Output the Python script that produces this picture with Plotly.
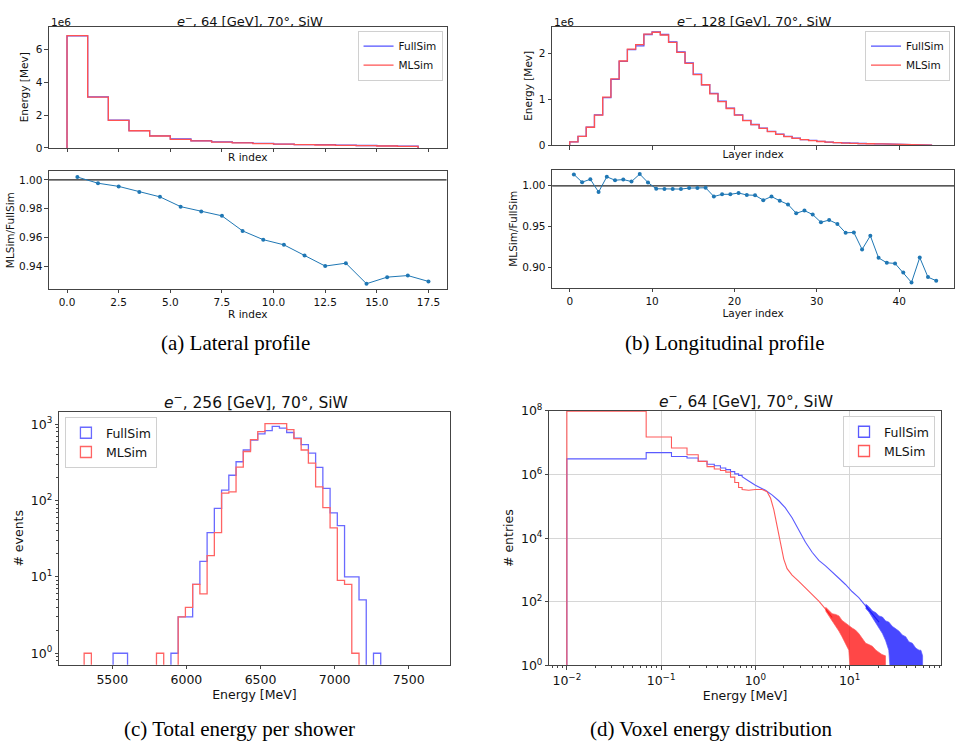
import plotly.graph_objects as go

W, H = 955, 750
FONT = "DejaVu Sans"
SERIF = "Liberation Serif"
TXT = "#111111"
SPINE = "#444444"
BLUE = "#5252ff"
RED = "#ff5252"
RATIO_C = "#1f77b4"

# ---------------- (a) lateral profile (energy in units of 1e6 MeV) ----------------
lat_edges = list(range(0, 18))
lat_fullsim = [6.83, 3.11, 1.69, 1.06, 0.74, 0.56, 0.44, 0.37, 0.32, 0.28, 0.24,
               0.21, 0.20, 0.17, 0.15, 0.13, 0.11]
lat_mlsim = [6.84, 3.10, 1.68, 1.05, 0.73, 0.52, 0.43, 0.36, 0.31, 0.27, 0.23,
             0.20, 0.18, 0.16, 0.14, 0.12, 0.10]
lat_ratio_x = [i + 0.5 for i in range(18)]
lat_ratio = [1.0020, 0.9977, 0.9955, 0.9916, 0.9882, 0.9814, 0.9780, 0.9750, 0.9645,
             0.9584, 0.9548, 0.9473, 0.9400, 0.9420, 0.9277, 0.9323, 0.9334, 0.9293]

# ---------------- (b) longitudinal profile (energy in units of 1e6 MeV) ----------------
long_edges = list(range(0, 45))
long_fullsim = [0.07, 0.19, 0.39, 0.66, 1.04, 1.44, 1.83, 2.09, 2.17, 2.42, 2.48,
                2.42, 2.26, 2.04, 1.80, 1.55, 1.32, 1.13, 0.96, 0.81, 0.66, 0.54,
                0.45, 0.37, 0.30, 0.24, 0.19, 0.15, 0.12, 0.10, 0.08, 0.065, 0.055,
                0.046, 0.040, 0.034, 0.030, 0.026, 0.023, 0.020, 0.018, 0.016, 0.014, 0.012]
long_mlsim = [0.071, 0.19, 0.39, 0.655, 1.05, 1.45, 1.84, 2.10, 2.20, 2.43, 2.47,
              2.41, 2.25, 2.03, 1.79, 1.54, 1.32, 1.12, 0.95, 0.80, 0.655, 0.535,
              0.445, 0.365, 0.295, 0.235, 0.186, 0.146, 0.117, 0.096, 0.077, 0.062,
              0.052, 0.043, 0.038, 0.032, 0.028, 0.024, 0.021, 0.018, 0.016, 0.014,
              0.013, 0.011]
long_ratio_x = [i + 0.5 for i in range(45)]
long_ratio = [1.0139, 1.0044, 1.0080, 0.9924, 1.0110, 1.0068, 1.0076, 1.0052, 1.0143, 1.0040,
              0.9964, 0.9960, 0.9960, 0.9960, 0.9972, 0.9972, 0.9976, 0.9869, 0.9896, 0.9896,
              0.9912, 0.9888, 0.9884, 0.9825, 0.9869, 0.9817, 0.9773, 0.9665, 0.9697, 0.9649,
              0.9554, 0.9582, 0.9534, 0.9426, 0.9430, 0.9223, 0.9390, 0.9120, 0.9060, 0.9052,
              0.8940, 0.8820, 0.9124, 0.8885, 0.8841]

# ---------------- (c) total energy per shower ----------------
tot_bin_start = 5310.0
tot_bin_width = 48.8
tot_fullsim = [0, 0, 0, 0, 1, 1, 0, 0, 0, 0, 0, 0, 1, 3, 3, 8, 16, 38, 79, 137, 215,
               323, 460, 620, 750, 825, 940, 890, 780, 660, 540, 420, 273, 145, 69, 47,
               10, 10, 5, 0, 1]
tot_mlsim = [1, 0, 0, 0, 0, 0, 0, 0, 0, 0, 1, 0, 0, 3, 4, 8, 6, 19, 38, 125, 130,
             275, 440, 630, 800, 1020, 1020, 1020, 850, 650, 460, 310, 151, 81, 44, 9,
             8, 1, 0, 0, 0]
tot_edges = [tot_bin_start + tot_bin_width * i for i in range(len(tot_fullsim) + 1)]

# ---------------- (d) voxel energy distribution ----------------
vox_bin_start = 0.01
vox_bin_width = 0.0594
vox_full_bins = [3.1e6, 4.9e6, 3.7e6, 3.3e6, 2.6e6, 2.1e6, 1.9e6, 1.6e6, 1.43e6, 1.24e6,
                 1.05e6, 9.4e5]
vox_ml_bins = [9.8e7, 1.52e7, 6.8e6, 4.2e6, 2.6e6, 1.77e6, 1.5e6, 1.34e6, 1.19e6, 8.3e5,
               5.6e5, 3.9e5]
vox_edges = [vox_bin_start + vox_bin_width * i for i in range(len(vox_full_bins) + 1)]
vox_full_tail_E = [0.723, 0.849, 1.0, 1.28, 1.50, 1.77, 2.08, 2.45, 2.89, 3.40, 4.0, 4.71,
                   5.55, 6.53, 7.69, 9.04, 10.6, 12.5, 14.8, 17.4, 20.5]
vox_full_tail = [8.5e5, 6.3e5, 4.6e5, 3.2e5, 2.3e5, 1.5e5, 8.9e4, 4.4e4, 1.7e4, 7.4e3,
                 3.6e3, 2.0e3, 1.35e3, 890, 550, 350, 210, 135, 74, 41, 23]
vox_full_noise_E = [14.8, 16.0, 17.4, 19.0, 20.5, 22.3, 24.1, 26.0, 28.3, 30.8, 33.3, 36.2,
                    39.3, 42.5, 46.2, 50.2, 54.5, 57.0, 59.4]
vox_full_noise_hi = [85, 70, 52, 45, 36, 33, 25, 23, 17, 14, 12, 9, 8, 5.5, 5, 3.5, 3, 3, 2]
vox_full_noise_lo = [62, 48, 33, 22, 15, 10, 6, 3, 0, 0, 0, 0, 0, 0, 0, 0, 0, 0, 0]
vox_ml_tail_E = [0.723, 0.849, 1.0, 1.18, 1.33, 1.45, 1.57, 1.70, 1.85, 2.0, 2.17, 2.45,
                 2.89, 3.40, 4.0, 4.71, 5.55, 6.53]
vox_ml_tail = [3.4e5, 3.2e5, 3.4e5, 3.4e5, 2.9e5, 1.8e5, 7.8e4, 2.4e4, 7.4e3, 2.2e3, 1.1e3,
               690, 440, 270, 170, 105, 59, 32]
vox_ml_noise_E = [5.55, 6.53, 7.1, 7.69, 8.3, 9.04, 9.8, 10.6, 11.5, 12.5, 13.6, 14.8,
                  16.0, 17.4, 19.0, 20.5, 22.0, 24.0]
vox_ml_noise_hi = [68, 42, 40, 36, 26, 22, 18, 15, 13, 10, 7, 5, 4.5, 4, 3, 2.5, 2.2, 2]
vox_ml_noise_lo = [52, 25, 18, 12, 8, 5, 3, 0, 0, 0, 0, 0, 0, 0, 0, 0, 0, 0]

# tick labels
pow_labels_c = ["10<sup>0</sup>", "10<sup>1</sup>", "10<sup>2</sup>", "10<sup>3</sup>"]
pow_vals_c = [1, 10, 100, 1000]
pow_labels_dx = ["10<sup>\u22122</sup>", "10<sup>\u22121</sup>", "10<sup>0</sup>", "10<sup>1</sup>"]
pow_vals_dx = [0.01, 0.1, 1, 10]
pow_labels_dy = ["10<sup>0</sup>", "10<sup>2</sup>", "10<sup>4</sup>", "10<sup>6</sup>", "10<sup>8</sup>"]
pow_vals_dy = [1, 1e2, 1e4, 1e6, 1e8]


def step_outline(edges, counts, floor=0.0, close=True):
    xs, ys = [edges[0]], [floor]
    for i, c in enumerate(counts):
        v = c if c > 0 else floor
        xs += [edges[i], edges[i + 1]]
        ys += [v, v]
    if close:
        xs.append(edges[-1])
        ys.append(floor)
    return xs, ys


def band(xv, hi, lo, floor):
    lo2 = [v if v > 0 else floor for v in lo]
    return list(xv) + list(xv)[::-1], list(hi) + lo2[::-1]


fig = go.Figure()

# (a) top
for name, vals, col in [("FullSim", lat_fullsim, BLUE), ("MLSim", lat_mlsim, RED)]:
    xs, ys = step_outline(lat_edges, vals, 0.0)
    fig.add_trace(go.Scatter(x=xs, y=ys, mode="lines", name=name, line=dict(color=col, width=1.3),
                             xaxis="x", yaxis="y", legend="legend"))
fig.add_trace(go.Scatter(x=lat_ratio_x, y=lat_ratio, mode="lines+markers", showlegend=False,
                         line=dict(color=RATIO_C, width=1), marker=dict(size=4, color=RATIO_C),
                         xaxis="x2", yaxis="y2"))

# (b) top
for name, vals, col in [("FullSim", long_fullsim, BLUE), ("MLSim", long_mlsim, RED)]:
    xs, ys = step_outline(long_edges, vals, 0.0)
    fig.add_trace(go.Scatter(x=xs, y=ys, mode="lines", name=name, line=dict(color=col, width=1.3),
                             xaxis="x3", yaxis="y3", legend="legend2"))
fig.add_trace(go.Scatter(x=long_ratio_x, y=long_ratio, mode="lines+markers", showlegend=False,
                         line=dict(color=RATIO_C, width=1), marker=dict(size=4, color=RATIO_C),
                         xaxis="x4", yaxis="y4"))

# (c)
for name, vals, col in [("FullSim", tot_fullsim, "#6a6aff"), ("MLSim", tot_mlsim, "#ff6464")]:
    xs, ys = step_outline(tot_edges, vals, 0.01)
    fig.add_trace(go.Scatter(x=xs, y=ys, mode="lines", showlegend=False,
                             line=dict(color=col, width=1.3), xaxis="x5", yaxis="y5"))
    fig.add_trace(go.Scatter(x=[None], y=[None], mode="markers", name=name, legend="legend3",
                             marker=dict(symbol="square-open", size=11, color=col,
                                         line=dict(width=1.3, color=col)),
                             xaxis="x5", yaxis="y5"))

# (d)
for name, bins, tE, tV, nE, nH, nL, col, fillc in [
        ("FullSim", vox_full_bins, vox_full_tail_E, vox_full_tail, vox_full_noise_E,
         vox_full_noise_hi, vox_full_noise_lo, "#5a5aff", "rgba(0,0,255,0.72)"),
        ("MLSim", vox_ml_bins, vox_ml_tail_E, vox_ml_tail, vox_ml_noise_E,
         vox_ml_noise_hi, vox_ml_noise_lo, "#ff5a5a", "rgba(255,0,0,0.72)")]:
    xs, ys = step_outline(vox_edges, bins, 0.1, close=False)
    xs += tE
    ys += tV
    fig.add_trace(go.Scatter(x=xs, y=ys, mode="lines", showlegend=False,
                             line=dict(color=col, width=1.1), xaxis="x6", yaxis="y6"))
    bx, by = band(nE, nH, nL, 0.1)
    fig.add_trace(go.Scatter(x=bx, y=by, mode="lines", fill="toself", fillcolor=fillc,
                             line=dict(color=col, width=0.7), showlegend=False,
                             xaxis="x6", yaxis="y6"))
    fig.add_trace(go.Scatter(x=[None], y=[None], mode="markers", name=name, legend="legend4",
                             marker=dict(symbol="square-open", size=11, color=col,
                                         line=dict(width=1.3, color=col)),
                             xaxis="x6", yaxis="y6"))


def ax(fs, **kw):
    d = dict(showline=True, linecolor=SPINE, linewidth=1, mirror=True, ticks="outside",
             ticklen=3.5, tickwidth=1, tickcolor=SPINE,
             tickfont=dict(size=fs, color=TXT, family=FONT), showgrid=False, zeroline=False,
             title_font=dict(size=fs, color=TXT, family=FONT))
    d.update(kw)
    return d


def dx(a, b):
    return [a / W, b / W]


def dy(top, bot):
    return [1 - bot / H, 1 - top / H]


FA = 10.5
FC = 12.5
lat_ticks = [0, 2.5, 5, 7.5, 10, 12.5, 15, 17.5]
lat_ticktext = ["0.0", "2.5", "5.0", "7.5", "10.0", "12.5", "15.0", "17.5"]

fig.update_layout(
    width=W, height=H, margin=dict(l=0, r=0, t=0, b=0),
    paper_bgcolor="white", plot_bgcolor="white",
    font=dict(family=FONT, color=TXT),
    xaxis=ax(FA, domain=dx(49, 447), range=[-0.875, 18.375], anchor="y",
             tickvals=lat_ticks, showticklabels=False,
             title=dict(text="R index", standoff=2)),
    yaxis=ax(FA, domain=dy(18, 142), range=[0, 7.39], anchor="x",
             tickvals=[0, 2, 4, 6], title=dict(text="Energy [Mev]", standoff=4)),
    xaxis2=ax(FA, domain=dx(49, 447), range=[-0.875, 18.375], anchor="y2",
              tickvals=lat_ticks, ticktext=lat_ticktext,
              title=dict(text="R index", standoff=0)),
    yaxis2=ax(FA, domain=dy(166, 286), range=[0.9241, 1.0059], anchor="x2",
              tickvals=[0.94, 0.96, 0.98, 1.00], tickformat=".2f",
              title=dict(text="MLSim/FullSim", standoff=2)),
    xaxis3=ax(FA, domain=dx(552.7, 955), range=[-2.14, 46.66], anchor="y3",
              tickvals=[0, 10, 20, 30, 40], showticklabels=False,
              title=dict(text="Layer index", standoff=2)),
    yaxis3=ax(FA, domain=dy(18, 139), range=[0, 2.593], anchor="x3",
              tickvals=[0, 1, 2], title=dict(text="Energy [Mev]", standoff=4)),
    xaxis4=ax(FA, domain=dx(552.7, 955), range=[-2.14, 46.66], anchor="y4",
              tickvals=[0, 10, 20, 30, 40], title=dict(text="Layer index", standoff=0)),
    yaxis4=ax(FA, domain=dy(164, 285), range=[0.8753, 1.0199], anchor="x4",
              tickvals=[0.90, 0.95, 1.00], tickformat=".2f",
              title=dict(text="MLSim/FullSim", standoff=2)),
    xaxis5=ax(FC, domain=dx(59.3, 450), range=[5142, 7775], anchor="y5",
              tickvals=[5500, 6000, 6500, 7000, 7500],
              title=dict(text="Energy [MeV]", standoff=1)),
    yaxis5=ax(FC, type="log", domain=dy(411.7, 670), range=[-0.15, 3.162], anchor="x5",
              tickvals=pow_vals_c, ticktext=pow_labels_c,
              minor=dict(ticks="outside", ticklen=2, tickcolor=SPINE, dtick="D1"),
              title=dict(text="# events", standoff=4)),
    xaxis6=ax(FC, type="log", domain=dx(550, 941.7), range=[-2.185, 1.966], anchor="y6",
              tickvals=pow_vals_dx, ticktext=pow_labels_dx, showgrid=True, gridcolor="#d6d6d6",
              minor=dict(ticks="outside", ticklen=2, tickcolor=SPINE, dtick="D1", showgrid=False),
              title=dict(text="Energy [MeV]", standoff=1)),
    yaxis6=ax(FC, type="log", domain=dy(410.7, 670.7), range=[0, 8], anchor="x6",
              tickvals=pow_vals_dy, ticktext=pow_labels_dy, showgrid=True, gridcolor="#d6d6d6",
              title=dict(text="# entries", standoff=4)),
)

leg_common = dict(bgcolor="rgba(255,255,255,0.85)", bordercolor="#d0d0d0", borderwidth=1,
                  tracegroupgap=0, xanchor="right", yanchor="top")
fig.update_layout(
    legend=dict(leg_common, x=443 / W, y=1 - 22 / H, font=dict(size=FA, family=FONT), itemwidth=30),
    legend2=dict(leg_common, x=951 / W, y=1 - 22 / H, font=dict(size=FA, family=FONT), itemwidth=30),
    legend3=dict(leg_common, x=65 / W, y=1 - 417 / H, xanchor="left",
                 font=dict(size=FC, family=FONT), itemwidth=30),
    legend4=dict(leg_common, x=936 / W, y=1 - 416 / H, font=dict(size=FC, family=FONT), itemwidth=30),
)

shapes = []
for xr, yr in [("x2", "y2"), ("x4", "y4")]:
    shapes.append(dict(type="line", xref=xr + " domain", x0=0, x1=1, yref=yr, y0=1, y1=1,
                       line=dict(color="#222222", width=1.2), layer="below"))
fig.update_layout(shapes=shapes)

annots = []
title_specs = [
    ("<i>e</i><sup>\u2212</sup>, 64 [GeV], 70°, SiW", 250, 12, 13),
    ("<i>e</i><sup>\u2212</sup>, 128 [GeV], 70°, SiW", 755, 12, 13),
    ("<i>e</i><sup>\u2212</sup>, 256 [GeV], 70°, SiW", 256, 401, 15.5),
    ("<i>e</i><sup>\u2212</sup>, 64 [GeV], 70°, SiW", 747, 400, 15.5),
]
for txt, x, y, fs in title_specs:
    annots.append(dict(text=txt, x=x / W, y=1 - y / H, xref="paper", yref="paper",
                       xanchor="center", yanchor="middle", showarrow=False,
                       font=dict(size=fs, family=FONT, color=TXT)))
for x, y in [(49, 13), (553, 13)]:
    annots.append(dict(text="1e6", x=x / W, y=1 - y / H, xref="paper", yref="paper",
                       xanchor="left", yanchor="middle", showarrow=False,
                       font=dict(size=FA, family=FONT, color=TXT)))
captions = [
    ("(a) Lateral profile", 236, 341),
    ("(b) Longitudinal profile", 725, 341),
    ("(c) Total energy per shower", 240, 736),
    ("(d) Voxel energy distribution", 712, 736),
]
for txt, x, y in captions:
    annots.append(dict(text=txt, x=x / W, y=1 - y / H, xref="paper", yref="paper",
                       xanchor="center", yanchor="middle", showarrow=False,
                       font=dict(size=21, family=SERIF, color="black")))
fig.update_layout(annotations=annots)

fig.write_html("out.html", config={"displayModeBar": False},
               post_script="document.body.style.margin='0px';")
